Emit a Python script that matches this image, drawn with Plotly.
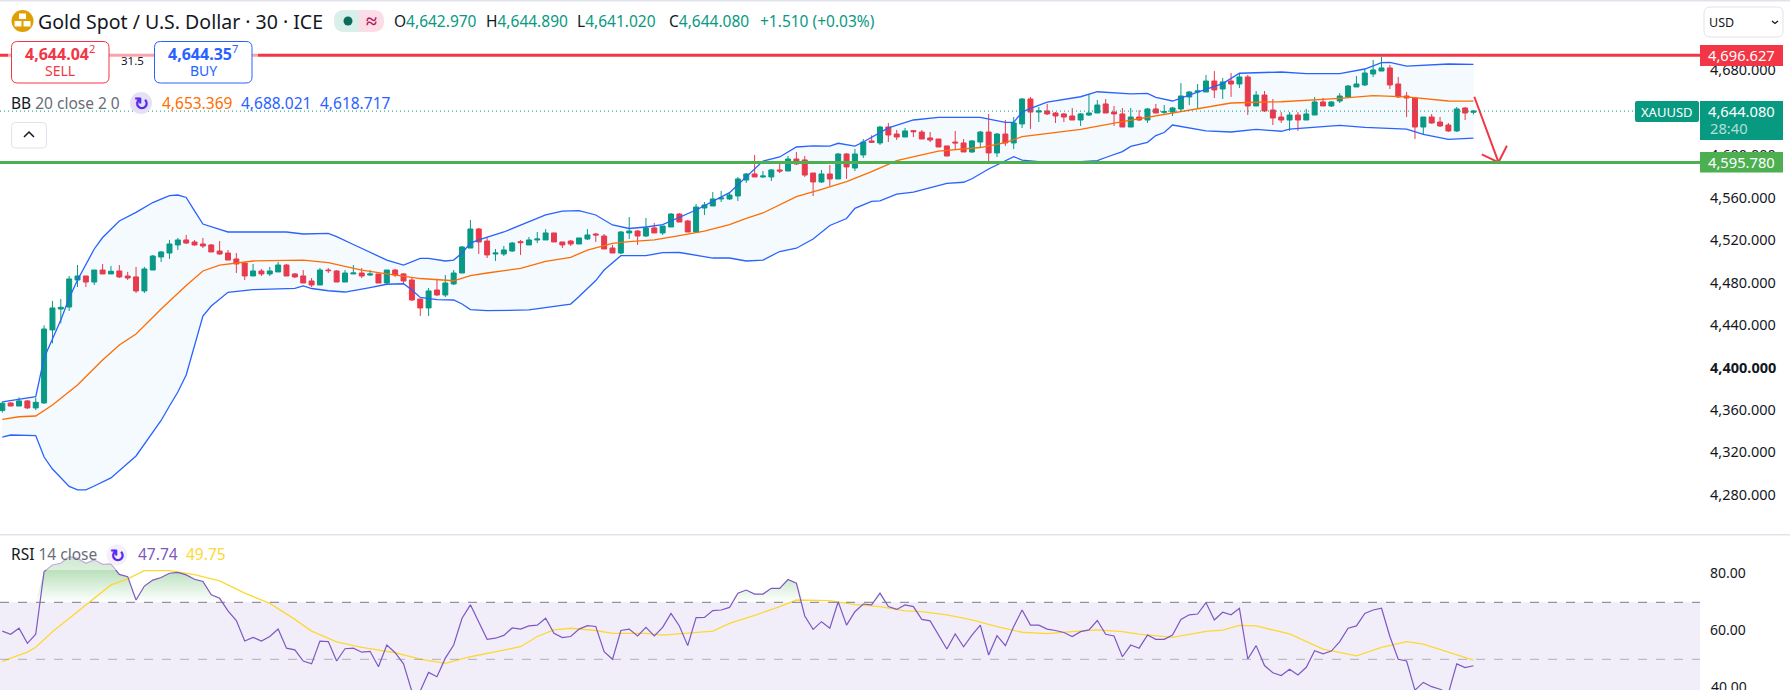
import plotly.graph_objects as go

W = 1790
H = 690
FONT = "Noto Sans"

# candles, oldest first
opens = [4362.2,4369.4,4366.5,4371.3,4364.7,4369.4,4438.1,4457.8,4459.7,4485.1,
         4488.9,4483.2,4494.5,4490.8,4493.6,4488.9,4488.0,4474.8,4494.5,4506.8,
         4510.5,4518.1,4522.8,4520.9,4519.0,4518.1,4512.4,4510.5,4504.9,4501.1,
         4488.9,4493.6,4490.8,4492.7,4499.2,4490.8,4488.9,4484.2,4480.4,4494.5,
         4493.6,4483.2,4490.8,4491.7,4489.8,4490.8,4482.3,4494.5,4490.8,4485.1,
         4467.2,4458.8,4475.7,4471.0,4481.4,4491.7,4515.2,4533.1,4521.8,4509.6,
         4509.6,4512.4,4521.2,4518.1,4522.8,4522.8,4529.4,4520.9,4521.8,4519.0,
         4523.7,4528.4,4526.5,4515.2,4510.5,4529.4,4531.2,4526.5,4534.1,4529.4,
         4535.0,4547.2,4540.7,4530.3,4552.9,4554.8,4561.4,4561.4,4564.2,4579.2,
         4584.9,4582.1,4582.1,4588.7,4587.7,4599.0,4598.1,4585.8,4577.4,4584.9,
         4580.2,4603.7,4590.5,4602.8,4616.0,4614.1,4629.1,4622.5,4619.7,4625.7,
         4624.4,4618.8,4617.8,4611.3,4615.0,4614.1,4605.6,4615.0,4624.4,4604.7,
         4622.5,4614.1,4632.0,4655.5,4643.2,4644.2,4642.3,4641.4,4639.5,4635.7,
         4640.4,4642.3,4650.8,4643.2,4641.4,4629.1,4638.5,4635.7,4646.1,4642.9,
         4643.2,4646.1,4657.4,4662.1,4662.1,4672.4,4664.9,4672.4,4669.6,4676.2,
         4648.9,4659.2,4645.1,4638.5,4635.7,4640.4,4635.7,4640.4,4652.7,4648.9,
         4653.6,4657.4,4666.8,4668.7,4679.0,4681.8,4684.7,4669.6,4658.3,4656.4,
         4629.1,4638.5,4633.8,4631.0,4625.4,4647.0,4642.97]
highs = [4370.6,4370.0,4374.7,4372.2,4374.1,4442.5,4465.4,4467.2,4488.9,4499.2,
         4488.9,4494.5,4500.2,4498.3,4499.2,4492.7,4497.4,4497.4,4508.7,4512.4,
         4522.8,4524.7,4527.5,4522.8,4524.7,4519.0,4521.8,4513.4,4510.5,4502.1,
         4500.2,4495.5,4497.4,4502.1,4500.2,4491.7,4494.5,4487.0,4496.4,4496.4,
         4494.5,4494.5,4499.2,4496.4,4494.5,4490.8,4494.5,4495.5,4491.7,4487.0,
         4467.2,4477.6,4486.1,4489.8,4494.5,4517.1,4541.6,4534.1,4525.6,4514.3,
         4517.1,4520.9,4522.8,4525.6,4530.3,4533.1,4529.4,4520.9,4522.8,4524.7,
         4533.1,4529.4,4528.4,4518.1,4531.2,4544.4,4532.2,4543.5,4538.8,4535.9,
         4548.2,4548.2,4541.6,4556.7,4558.5,4567.9,4568.9,4567.0,4582.1,4585.8,
         4602.8,4587.7,4589.6,4594.3,4601.8,4605.6,4601.8,4585.8,4588.7,4593.4,
         4604.7,4604.7,4608.4,4617.8,4621.3,4630.1,4632.9,4626.3,4628.2,4626.3,
         4626.3,4624.4,4617.8,4611.3,4625.4,4617.8,4616.9,4625.4,4641.4,4623.5,
         4635.7,4638.5,4656.4,4657.4,4648.0,4650.8,4643.2,4642.3,4647.0,4642.3,
         4660.2,4654.5,4655.5,4648.9,4647.0,4647.0,4645.1,4647.0,4650.8,4649.8,
         4648.0,4670.5,4663.0,4669.6,4678.1,4681.8,4675.2,4680.0,4679.0,4678.1,
         4663.0,4663.0,4655.5,4643.2,4643.2,4643.2,4646.1,4657.4,4656.4,4653.6,
         4661.1,4668.7,4677.1,4683.7,4692.2,4695.0,4687.5,4676.2,4662.1,4657.4,
         4638.5,4641.4,4638.5,4632.9,4648.0,4648.0,4644.89]
lows = [4360.3,4366.5,4366.5,4363.7,4362.8,4368.4,4425.5,4444.3,4456.0,4478.5,
        4478.5,4480.4,4490.8,4490.8,4487.0,4485.1,4472.9,4472.9,4494.5,4502.1,
        4504.9,4513.4,4519.0,4517.4,4515.2,4511.5,4508.7,4503.9,4491.7,4485.1,
        4488.9,4488.9,4488.9,4492.7,4488.9,4487.0,4482.3,4478.5,4480.4,4491.7,
        4483.2,4483.2,4490.8,4487.0,4488.9,4482.3,4481.4,4487.9,4481.4,4465.4,
        4451.2,4451.2,4470.1,4469.1,4480.4,4491.7,4515.2,4509.6,4505.8,4503.0,
        4507.7,4511.5,4508.7,4518.1,4519.9,4522.8,4520.9,4515.2,4517.1,4519.0,
        4522.8,4520.9,4514.3,4510.5,4509.6,4523.7,4518.1,4525.6,4529.4,4527.5,
        4535.0,4539.7,4530.3,4529.4,4546.3,4554.8,4558.5,4560.4,4559.5,4576.4,
        4582.1,4581.1,4578.3,4585.8,4587.7,4593.4,4582.1,4564.2,4576.4,4573.6,
        4580.2,4580.2,4587.7,4600.0,4614.1,4612.2,4615.0,4616.9,4619.7,4619.7,
        4617.8,4615.0,4610.3,4601.8,4607.5,4605.6,4604.7,4609.4,4597.1,4600.9,
        4611.3,4608.4,4628.2,4627.3,4633.8,4640.4,4632.9,4633.8,4635.7,4630.1,
        4639.5,4642.3,4642.3,4630.1,4629.1,4629.1,4634.8,4632.9,4642.3,4641.4,
        4639.5,4644.2,4649.8,4646.1,4662.1,4656.4,4655.5,4657.4,4665.8,4640.4,
        4648.9,4643.2,4631.0,4632.9,4625.4,4625.4,4635.7,4640.4,4648.9,4648.0,
        4651.7,4657.4,4666.8,4667.7,4676.2,4681.8,4664.9,4656.4,4638.5,4617.8,
        4622.5,4632.0,4629.1,4624.4,4624.4,4635.7,4641.02]
closes = [4369.1,4366.5,4371.3,4364.7,4370.0,4439.0,4458.8,4459.4,4486.1,4488.9,
          4483.2,4494.5,4490.8,4493.3,4488.0,4487.0,4474.8,4495.5,4507.7,4511.5,
          4519.0,4522.8,4519.9,4518.1,4517.1,4511.5,4509.6,4503.9,4500.2,4488.9,
          4493.6,4490.8,4493.6,4499.2,4488.9,4488.0,4482.3,4480.4,4494.5,4493.9,
          4483.2,4491.7,4491.7,4488.9,4490.8,4482.3,4494.5,4489.8,4484.2,4466.3,
          4458.8,4474.8,4471.0,4482.3,4491.7,4516.2,4533.1,4520.9,4508.7,4510.5,
          4513.4,4519.9,4520.3,4522.8,4523.7,4529.4,4520.9,4518.1,4519.0,4524.7,
          4527.5,4527.5,4514.3,4510.5,4530.3,4531.2,4526.5,4534.1,4529.4,4535.9,
          4547.2,4539.7,4530.3,4553.8,4555.7,4561.4,4562.3,4565.1,4580.2,4584.9,
          4582.1,4583.0,4588.7,4587.7,4599.0,4594.3,4583.9,4577.4,4584.9,4580.2,
          4603.7,4591.5,4603.7,4615.0,4614.7,4629.1,4621.6,4619.7,4625.4,4624.7,
          4617.8,4616.9,4610.3,4601.8,4614.1,4605.6,4616.0,4624.4,4604.7,4622.5,
          4614.1,4632.9,4655.5,4643.2,4644.2,4641.4,4639.5,4638.5,4635.7,4641.4,
          4642.3,4649.8,4642.3,4641.4,4629.1,4638.5,4635.7,4646.1,4642.3,4643.6,
          4647.0,4658.3,4662.1,4663.0,4672.4,4664.0,4671.5,4669.6,4676.2,4648.9,
          4659.2,4644.2,4637.6,4635.7,4640.4,4635.7,4641.4,4652.7,4648.9,4652.7,
          4658.3,4667.7,4669.6,4679.9,4682.8,4684.7,4668.7,4657.4,4656.4,4629.1,
          4638.5,4632.9,4630.1,4625.4,4646.1,4642.3,4644.08]

# bollinger bands, read at the candles where the curve bends
upper_idx = [0,4,5,7,8,9,11,12,14,16,18,20,21,22,23,24,26,27,34,36,39,40,42,44,46,48,50,51,53,54,55,56,57,60,65,67,69,71,
             73,75,77,79,80,81,83,87,89,91,93,95,97,99,100,102,103,105,106,109,112,117,120,121,122,123,125,129,131,135,137,
             138,140,143,146,148,153,156,160,163,165,166,168,173,176]
upper = [4370.3,4375.4,4411.7,4447.5,4468.2,4485.1,4514.3,4525.1,4540.6,4548.8,4558.0,4564.6,4565.1,4562.8,4550.1,4537.8,
         4532.8,4530.3,4530.3,4528.4,4528.9,4525.9,4518.5,4511.0,4503.9,4499.2,4505.5,4505.5,4503.0,4503.9,4510.5,4519.9,
         4522.8,4530.3,4546.3,4550.0,4550.5,4546.3,4536.9,4533.6,4535.0,4537.3,4540.6,4544.4,4551.0,4567.3,4582.0,4597.1,
         4600.9,4610.3,4611.4,4611.2,4613.8,4611.2,4615.0,4623.5,4628.2,4635.7,4638.2,4638.2,4633.5,4633.5,4643.2,4646.7,
         4652.6,4657.6,4662.3,4660.2,4660.8,4657.1,4653.6,4662.0,4670.0,4679.7,4680.9,4679.3,4679.3,4683.7,4689.8,4690.0,
         4686.5,4688.4,4688.0]
basis_idx = [0,2,4,6,9,12,14,16,19,22,24,26,30,36,39,43,46,50,54,56,58,62,65,68,70,73,75,78,81,84,87,89,91,93,95,98,101,104,
             107,110,112,117,120,122,129,134,141,147,150,153,160,164,168,173,176]
basis = [4354.0,4356.4,4357.1,4367.5,4386.3,4409.8,4424.0,4434.3,4457.8,4479.9,4493.6,4499.2,4503.0,4503.9,4501.4,4494.5,
         4490.8,4486.5,4484.4,4489.2,4491.7,4496.1,4502.7,4506.5,4513.3,4519.5,4521.2,4522.8,4526.8,4531.2,4537.3,4543.2,
         4548.2,4555.7,4563.5,4570.5,4577.8,4587.2,4597.4,4602.8,4606.5,4609.8,4614.5,4620.0,4626.8,4634.1,4643.5,4651.7,
         4652.4,4652.9,4656.1,4658.6,4657.4,4653.6,4653.4]
lower_idx = [0,1,4,5,6,8,9,10,11,13,16,19,20,21,22,23,24,25,27,30,35,36,37,39,41,44,46,48,49,50,52,54,55,56,58,63,68,69,70,71,
             72,74,77,79,81,83,85,87,89,91,93,95,97,99,101,102,104,105,107,109,113,115,116,118,121,122,124,129,131,132,134,135,
             137,138,139,140,142,144,147,150,153,154,160,163,168,170,173,176]
lower = [4337.3,4339.2,4338.7,4318.5,4307.2,4290.8,4287.5,4287.5,4291.2,4298.8,4319.5,4352.9,4366.5,4379.7,4395.7,4423.9,
         4451.2,4460.6,4473.5,4476.0,4477.3,4479.5,4477.1,4475.0,4473.8,4478.0,4481.1,4481.6,4475.7,4468.7,4466.6,4466.3,
         4462.5,4457.3,4456.2,4456.9,4462.5,4469.6,4477.6,4484.6,4494.5,4508.0,4508.0,4510.8,4511.0,4508.6,4505.8,4505.8,
         4503.0,4503.9,4511.9,4515.0,4523.7,4536.4,4543.0,4552.6,4559.2,4559.5,4566.0,4567.9,4576.1,4577.1,4580.4,4589.6,
         4601.2,4598.0,4596.6,4596.6,4597.4,4600.4,4605.9,4610.8,4614.7,4621.1,4623.9,4631.0,4628.4,4625.4,4624.4,4626.8,
         4625.1,4627.2,4630.7,4628.8,4627.2,4622.2,4617.5,4618.7]

# rsi pane
rsi = [59.9,58.8,60.9,55.6,58.8,80.8,83.1,83.7,86.0,85.4,83.7,84.9,83.3,83.5,79.8,79.0,70.8,75.7,77.8,78.7,
       80.2,80.5,79.6,78.1,77.3,72.6,71.4,67.0,63.6,56.4,57.7,56.4,58.0,60.6,53.9,53.3,49.4,48.4,56.4,56.2,
       49.4,53.7,53.9,52.5,52.8,47.4,55.0,52.3,48.4,38.7,38.9,45.4,43.9,50.4,55.0,64.4,69.1,62.9,57.0,57.4,
       58.4,61.0,60.6,61.7,62.0,64.4,59.1,57.6,58.0,60.6,61.8,61.5,52.7,50.0,60.1,60.6,58.2,61.2,58.2,61.2,
       66.1,61.7,54.8,64.6,64.7,67.1,67.3,68.2,73.2,74.3,72.9,72.9,74.9,74.9,78.0,76.7,65.2,60.5,63.2,60.9,
       70.2,62.0,66.7,69.4,69.1,73.2,68.5,67.5,69.1,68.5,64.0,63.5,58.5,53.6,58.9,54.4,58.5,62.0,51.5,58.3,
       54.8,61.5,67.3,62.0,62.0,60.6,60.1,59.4,58.0,59.7,60.3,63.6,58.8,58.2,50.9,55.0,53.9,58.5,57.0,57.0,
       58.5,64.0,65.6,65.9,69.9,63.8,66.5,65.6,67.9,50.1,54.8,47.8,45.3,44.3,46.5,44.5,47.2,53.0,51.9,52.9,
       56.2,60.9,61.7,66.1,67.3,67.9,58.0,50.0,49.4,39.2,41.9,40.4,39.5,38.1,48.4,47.1,47.74]
rsi_ma_idx = [0,1,3,4,6,10,13,15,17,20,23,26,29,32,35,37,40,43,47,50,53,56,58,62,64,66,68,71,73,77,79,83,85,87,90,93,95,99,
              102,105,108,110,113,116,119,122,125,128,131,134,136,140,144,146,148,150,154,158,162,165,167,168,170,173,176]
rsi_ma = [49.2,50.4,52.5,54.2,59.7,69.1,76.1,78.2,81.1,81.1,79.7,77.5,73.2,69.6,64.0,59.9,56.1,54.2,52.3,50.1,48.6,50.9,
          52.1,54.4,58.0,60.3,60.9,60.1,59.1,59.1,58.5,59.5,59.9,62.6,65.4,68.5,70.8,70.6,69.2,68.5,67.0,66.7,65.6,63.8,
          61.5,59.5,59.0,59.7,60.3,59.7,58.8,57.7,59.8,60.2,61.9,61.7,58.9,53.6,51.2,54.2,55.6,56.2,55.3,52.5,49.75]

# the drawn arrow on the chart
arrow_idx = [176.1, 179, 177, 179, 180]
arrow_price = [4657.6, 4595.9, 4603.4, 4595.9, 4611.5]

# 4640 sits behind the last price tag in the original
price_ticks = [4280, 4320, 4360, 4400, 4440, 4480, 4520, 4560, 4600, 4680]
rsi_ticks = [60, 80]
RSI_BOTTOM_TICK = 40

RESISTANCE = 4696.627
SUPPORT = 4595.78
LAST = 4644.08

TEAL = "#089981"
RED = "#F23645"
BLUE = "#2962FF"
ORANGE = "#FF6D00"
PURPLE = "#7E57C2"
YELLOW = "#FDD835"
GREEN = "#4CAF50"
INK = "#131722"
GREY = "#6A6D78"
BORDER = "#E0E3EB"
LEGEND_SIZE = 15.5
TAG_SIZE = 14.7

candle_x = list(range(len(closes)))


def px(x):
    return x / W


def py(y):
    return 1 - y / H


def label(x, y, text, size=14, color=INK, anchor="left", **kw):
    return dict(xref="paper", yref="paper", x=px(x), y=py(y), text=text, showarrow=False,
                xanchor=anchor, yanchor="middle", borderpad=0, borderwidth=0,
                font=dict(family=FONT, size=size, color=color), **kw)


def rect(x0, y0, x1, y1, fill, line=None, width=1):
    return dict(type="rect", xref="paper", yref="paper", x0=px(x0), x1=px(x1), y0=py(y0), y1=py(y1),
                fillcolor=fill, line=dict(color=line or "rgba(0,0,0,0)", width=width if line else 0), layer="above")


def rounded(x0, y0, x1, y1, r, fill, line=None, width=1):
    # box with round corners, written as a path because rect can't do it
    a, b, c, d = px(x0), px(x1), py(y0), py(y1)
    rx, ry = r / W, r / H
    path = (f"M {a + rx} {c} L {b - rx} {c} Q {b} {c} {b} {c - ry} L {b} {d + ry} Q {b} {d} {b - rx} {d} "
            f"L {a + rx} {d} Q {a} {d} {a} {d + ry} L {a} {c - ry} Q {a} {c} {a + rx} {c} Z")
    return dict(type="path", xref="paper", yref="paper", path=path, fillcolor=fill,
                line=dict(color=line or "rgba(0,0,0,0)", width=width if line else 0), layer="above")


def polyline(points, color, width=1.5):
    path = "M " + " L ".join(f"{px(x)} {py(y)}" for x, y in points)
    return dict(type="path", xref="paper", yref="paper", path=path, line=dict(color=color, width=width), layer="above")


def circle(cx, cy, r, fill):
    return dict(type="circle", xref="paper", yref="paper", x0=px(cx - r), x1=px(cx + r), y0=py(cy - r), y1=py(cy + r),
                fillcolor=fill, line=dict(width=0), layer="above")


fig = go.Figure()

fig.add_trace(go.Candlestick(x=candle_x, open=opens, high=highs, low=lows, close=closes, whiskerwidth=0,
                             increasing=dict(line=dict(color=TEAL, width=1), fillcolor=TEAL),
                             decreasing=dict(line=dict(color=RED, width=1), fillcolor=RED),
                             xaxis="x", yaxis="y", hoverinfo="skip"))
fig.add_trace(go.Scatter(x=lower_idx, y=lower, mode="lines", line=dict(color=BLUE, width=1.3), yaxis="y", hoverinfo="skip"))
fig.add_trace(go.Scatter(x=upper_idx, y=upper, mode="lines", line=dict(color=BLUE, width=1.3), fill="tonexty",
                         fillcolor="rgba(33,150,243,0.05)", yaxis="y", hoverinfo="skip"))
fig.add_trace(go.Scatter(x=basis_idx, y=basis, mode="lines", line=dict(color=ORANGE, width=1.3), yaxis="y", hoverinfo="skip"))
fig.add_trace(go.Scatter(x=arrow_idx, y=arrow_price, mode="lines", line=dict(color=RED, width=2), yaxis="y", hoverinfo="skip"))

# overbought shading: only where the rsi is above 70
fig.add_trace(go.Scatter(x=candle_x, y=[70] * len(rsi), mode="lines", line=dict(width=0), yaxis="y2", hoverinfo="skip"))
fig.add_trace(go.Scatter(x=candle_x, y=[max(v, 70) for v in rsi], mode="lines", line=dict(width=0), fill="tonexty",
                         fillgradient=dict(type="vertical", start=86, stop=70,
                                           colorscale=[[0, "rgba(76,175,80,0.55)"], [1, "rgba(76,175,80,0)"]]),
                         yaxis="y2", hoverinfo="skip"))
fig.add_trace(go.Scatter(x=rsi_ma_idx, y=rsi_ma, mode="lines", line=dict(color=YELLOW, width=1.3), yaxis="y2", hoverinfo="skip"))
fig.add_trace(go.Scatter(x=candle_x, y=rsi, mode="lines", line=dict(color=PURPLE, width=1.2), yaxis="y2", hoverinfo="skip"))

shapes = [
    # rsi band and levels
    dict(type="rect", xref="x domain", yref="y2", x0=0, x1=1, y0=30, y1=70, fillcolor="rgba(126,87,194,0.1)",
         line=dict(width=0), layer="below"),
    dict(type="line", xref="x domain", yref="y2", x0=0, x1=1, y0=70, y1=70, line=dict(color="#787B86", width=1, dash="dash")),
    dict(type="line", xref="x domain", yref="y2", x0=0, x1=1, y0=50, y1=50,
         line=dict(color="rgba(120,123,134,0.55)", width=1, dash="dash")),
    # price levels
    dict(type="line", xref="paper", yref="y", x0=0, x1=px(1635), y0=LAST, y1=LAST,
         line=dict(color=TEAL, width=1, dash="1px,3px")),
    dict(type="line", xref="x domain", yref="y", x0=0, x1=1, y0=RESISTANCE, y1=RESISTANCE, line=dict(color=RED, width=3)),
    dict(type="line", xref="x domain", yref="y", x0=0, x1=1, y0=SUPPORT, y1=SUPPORT, line=dict(color=GREEN, width=3)),
    # frame lines
    rect(0, 0, W, 1.5, BORDER),
    rect(0, 534, W, 535.5, BORDER),
    # veil on the red line under the trade buttons
    rect(8, 52, 258, 58, "rgba(255,255,255,0.55)"),
    rounded(11.5, 41.5, 109, 83, 6, "#FFFFFF", RED),
    rounded(154.5, 41.5, 252, 83, 6, "#FFFFFF", BLUE),
    rounded(11.5, 122.5, 46.5, 148, 4, "#FFFFFF", BORDER),
    polyline([(24, 137), (29, 132), (34, 137)], INK, 1.5),
    rounded(1704, 7, 1783, 37, 6, "#FFFFFF", BORDER),
    polyline([(1772, 21), (1775, 23.5), (1778, 21)], INK, 1.3),
    # symbol icon
    circle(22.5, 21, 11, "#DFA000"),
    rect(19, 13.5, 26, 19, "#FFFFFF"),
    rect(14.5, 21, 21.5, 26.5, "#FFFFFF"),
    rect(23.5, 21, 30.5, 26.5, "#FFFFFF"),
    # market status pill
    rounded(334, 10, 384, 32, 11, "#FBDCE7"),
    dict(type="path", xref="paper", yref="paper", layer="above", fillcolor="#D9F0EA", line=dict(width=0),
         path=f"M {px(359)} {py(10)} L {px(345)} {py(10)} Q {px(334)} {py(10)} {px(334)} {py(21)} "
              f"Q {px(334)} {py(32)} {px(345)} {py(32)} L {px(359)} {py(32)} Z"),
    circle(348, 21, 4.5, "#0B6B5D"),
    # reload badges
    circle(141, 103, 11, "#E6E0F5"),
    circle(117, 555, 10.5, "#E6E0F5"),
    # legend veil on the rsi shading
    rect(8, 545, 235, 570, "rgba(255,255,255,0.5)"),
    # axis price tags
    rect(1700, 45, 1783, 66, RED),
    rect(1700, 152, 1783, 172.5, GREEN),
    rect(1700, 101, 1783, 140, TEAL),
    rounded(1635, 101, 1699, 122, 2, TEAL),
]


def ohlc_part(x, letter, value):
    return label(x, 21, f'{letter}<span style="color:{TEAL}">{value}</span>', LEGEND_SIZE)


annotations = [
    label(38, 21.5, "Gold Spot / U.S. Dollar · 30 · ICE", 19.5),
    label(371, 20.5, "<b>≈</b>", 20, "#B0185A", "center"),
    ohlc_part(394, "O", "4,642.970"),
    ohlc_part(486, "H", "4,644.890"),
    ohlc_part(577, "L", "4,641.020"),
    ohlc_part(669, "C", "4,644.080"),
    label(760, 21, "+1.510 (+0.03%)", LEGEND_SIZE, TEAL),
    label(60, 52.5, "<b>4,644.04</b><sup>2</sup>", 16, RED, "center"),
    label(60, 70, "SELL", 14, RED, "center"),
    label(132, 61, "31.5", 11.5, INK, "center"),
    label(203, 52.5, "<b>4,644.35</b><sup>7</sup>", 16, BLUE, "center"),
    label(203, 70, "BUY", 14, BLUE, "center"),
    label(11, 103, f'BB <span style="color:{GREY}">20 close 2 0</span>', LEGEND_SIZE),
    label(141, 103, "<b>↻</b>", 18, "#5B2BF0", "center"),
    label(162, 103, "4,653.369", LEGEND_SIZE, ORANGE),
    label(241, 103, "4,688.021", LEGEND_SIZE, BLUE),
    label(320, 103, "4,618.717", LEGEND_SIZE, BLUE),
    label(11, 553.5, f'RSI <span style="color:{GREY}">14 close</span>', LEGEND_SIZE),
    label(117, 555, "<b>↻</b>", 18, "#5B2BF0", "center"),
    label(138, 553.5, "47.74", LEGEND_SIZE, PURPLE),
    label(186, 553.5, "49.75", LEGEND_SIZE, YELLOW),
    label(1709, 22.5, "USD", 12.5),
    label(1741.5, 55.5, "4,696.627", TAG_SIZE, "#FFFFFF", "center"),
    label(1741.5, 162, "4,595.780", TAG_SIZE, "#FFFFFF", "center"),
    label(1741.5, 110.5, "4,644.080", TAG_SIZE, "#FFFFFF", "center"),
    label(1729, 128.5, "28:40", TAG_SIZE, "rgba(255,255,255,0.7)", "center"),
    label(1667, 111.5, "XAUUSD", 13, "#FFFFFF", "center"),
    # as a real axis tick this one pushes the margin, it hangs off the bottom of the page
    dict(xref="paper", yref="y2", x=px(1709), y=RSI_BOTTOM_TICK, text=f"{RSI_BOTTOM_TICK}.00", showarrow=False,
         xanchor="left", yanchor="middle", yshift=1, font=dict(family=FONT, size=14, color=INK)),
]

fig.update_layout(
    width=W, height=H, autosize=False, showlegend=False,
    margin=dict(l=0, r=0, t=0, b=0), paper_bgcolor="#FFFFFF", plot_bgcolor="#FFFFFF",
    boxgap=0.15, hovermode=False,
    xaxis=dict(domain=[0, 1700 / W], range=[-0.275, 203.1], visible=False, rangeslider=dict(visible=False), fixedrange=True),
    yaxis=dict(domain=[1 - 535 / H, 1], range=[4245.1, 4748.65], side="right", showgrid=False, zeroline=False, tickmode="array",
               tickvals=price_ticks,
               ticktext=[f"<b>{v:,}.000</b>" if v == 4400 else f"{v:,}.000" for v in price_ticks],
               ticks="", ticklabelstandoff=9, ticklabelshift=-3, showline=False,
               tickfont=dict(family=FONT, size=14.5, color=INK), fixedrange=True),
    yaxis2=dict(domain=[0, 1 - 536 / H], range=[39.23, 93.26], side="right", anchor="x", showgrid=False, zeroline=False,
                tickmode="array", tickvals=rsi_ticks, ticktext=[f"{v}.00" for v in rsi_ticks],
                ticks="", ticklabelstandoff=9, ticklabelshift=-1, showline=False,
                tickfont=dict(family=FONT, size=14, color=INK), fixedrange=True),
    shapes=shapes, annotations=annotations,
)

fig.write_html("out.html", post_script="document.body.style.margin='0';document.documentElement.style.overflow='hidden';",
               config=dict(displayModeBar=False))
